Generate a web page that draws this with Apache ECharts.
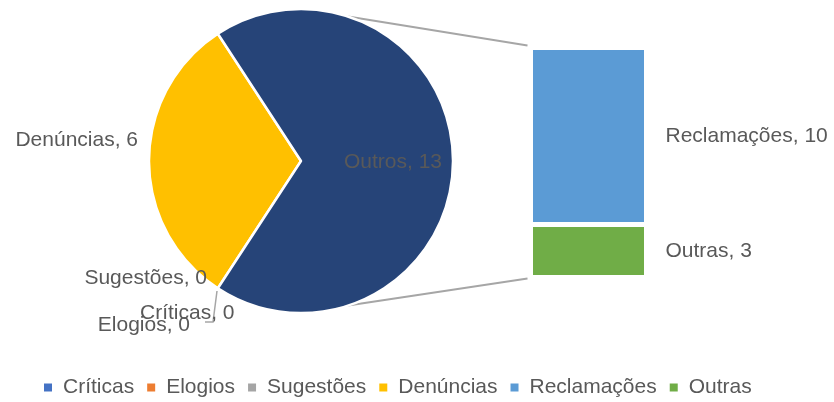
<!DOCTYPE html>
<html>
<head>
<meta charset="utf-8">
<script src="https://cdn.jsdelivr.net/npm/echarts@6/dist/echarts.min.js"></script>
<style>
	html,body{margin:0;padding:0;background:#fff;}
	#chart{width:834px;height:402px;}
</style>
</head>
<body>
<div id="chart"></div>
<script>
// dados
var pieCats = ['Críticas', 'Elogios', 'Sugestões', 'Denúncias', 'Outros'];
var pieVals = [0, 0, 0, 6, 13];
var barCats = ['Reclamações', 'Outras'];
var barVals = [10, 3];
var legendNames = ['Críticas', 'Elogios', 'Sugestões', 'Denúncias', 'Reclamações', 'Outras'];

var pieColors = ['#4472C4', '#ED7D31', '#A5A5A5', '#FFC000', '#264478'];
var barColors = ['#5B9BD5', '#70AD47'];
var txtColor = '#595959';
var font = '"Liberation Sans", Arial, sans-serif';

// geometria
var cx = 301, cy = 161, R = 152;
var gLeft = 530.5, gTop = 47.5, gW = 116, gH = 230;

// posição dos rótulos em relação ao centro da pizza [dx, dy, align]
var labelPos = [
	[-161, 152, 'left'],
	[-111, 164, 'right'],
	[-94, 117, 'right'],
	[-163, -21, 'right'],
	[92, 1, 'center']
];

var total = 0;
pieVals.forEach(function(v){ total += v; });
var startAngle = 180 + pieVals[3] / total * 180;

var myChart = echarts.init(document.getElementById('chart'));

var pieData = pieCats.map(function(n, i){
	return {
		name: n,
		value: pieVals[i],
		itemStyle: {color: pieColors[i]},
		label: {position: i == 4 ? 'inside' : 'outside'},
		labelLine: {show: i == 1}
	};
});

var barSeries = barCats.map(function(n, i){
	return {
		name: n,
		type: 'bar',
		stack: 'outros',
		barWidth: '100%',
		data: [barVals[i]],
		itemStyle: {color: barColors[i], borderColor: '#fff', borderWidth: 2.5},
		label: {
			show: true,
			position: 'right',
			distance: 19,
			formatter: '{a}, {c}',
			color: txtColor,
			fontSize: 21,
			fontFamily: font
		}
	};
});

// linhas de ligação
var a = 72 * Math.PI / 180;
var px = cx + R * Math.cos(a);
var connectors = [
	[px, cy - R * Math.sin(a), gLeft - 3, gTop - 2],
	[px, cy + R * Math.sin(a), gLeft - 3, gTop + gH + 1]
].map(function(p){
	return {
		type: 'line',
		shape: {x1: p[0], y1: p[1], x2: p[2], y2: p[3]},
		style: {stroke: '#A6A6A6', lineWidth: 2}
	};
});

var option = {
	backgroundColor: '#fff',
	animation: false,
	textStyle: {fontFamily: font},
	legend: {
		data: legendNames,
		left: 42,
		top: 377,
		padding: 0,
		icon: 'rect',
		itemWidth: 10,
		itemHeight: 10,
		itemGap: 11,
		textStyle: {color: txtColor, fontSize: 21, fontFamily: font, padding: [0, 0, 0, 5]}
	},
	grid: {left: gLeft, top: gTop, width: gW, height: gH},
	xAxis: {type: 'category', data: ['Outros'], show: false},
	yAxis: {type: 'value', min: 0, max: total - pieVals[3], inverse: true, show: false},
	graphic: connectors,
	series: [{
		name: 'pizza',
		type: 'pie',
		center: [cx, cy],
		radius: R,
		startAngle: startAngle,
		clockwise: true,
		data: pieData,
		itemStyle: {borderColor: '#fff', borderWidth: 2.5},
		label: {
			show: true,
			formatter: '{b}, {c}',
			color: txtColor,
			fontSize: 21,
			fontFamily: font,
			overflow: 'none'
		},
		labelLine: {lineStyle: {color: '#A6A6A6', width: 1.5}},
		labelLayout: function(p){
			var o = labelPos[p.dataIndex];
			var res = {x: cx + o[0], y: cy + o[1], align: o[2], verticalAlign: 'middle'};
			if (p.dataIndex == 1) {
				res.labelLinePoints = [[cx - 84, cy + 130], [cx - 88, cy + 161], [cx - 96, cy + 161]];
			}
			return res;
		}
	}].concat(barSeries)
};
myChart.setOption(option);
</script>
</body>
</html>
